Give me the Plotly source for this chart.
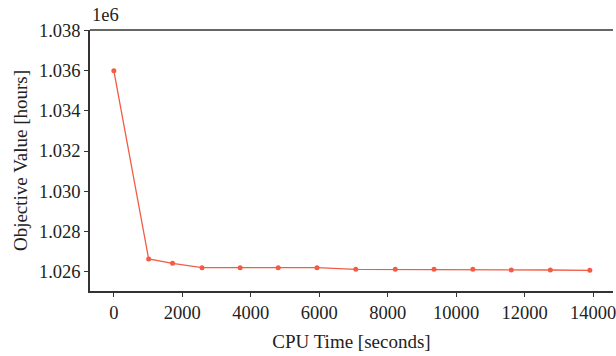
import plotly.graph_objects as go

cpu_time = [0, 1017, 1714, 2576, 3689, 4801, 5934, 7067, 8220, 9353, 10486, 11610, 12751, 13904]
objective = [1.036000e6, 1.026613e6, 1.026399e6, 1.026180e6, 1.026180e6, 1.026180e6, 1.026180e6,
             1.026100e6, 1.026100e6, 1.026100e6, 1.026100e6, 1.026065e6, 1.026065e6, 1.026050e6]
x_ticks = [0, 2000, 4000, 6000, 8000, 10000, 12000, 14000]
x_tick_text = ["0", "2000", "4000", "6000", "8000", "10000", "12000", "14000"]
y_ticks = [1.026e6, 1.028e6, 1.030e6, 1.032e6, 1.034e6, 1.036e6, 1.038e6]
y_tick_text = ["1.026", "1.028", "1.030", "1.032", "1.034", "1.036", "1.038"]

FONT = "Liberation Serif"
COLOR = "#f25c44"
FS = 18.5
FT = 19

fig = go.Figure()
fig.add_trace(go.Scatter(
    x=cpu_time, y=objective, mode="lines+markers",
    line=dict(color=COLOR, width=1.3),
    marker=dict(color=COLOR, size=5),
    cliponaxis=False,
))

fig.update_layout(
    width=616, height=356,
    margin=dict(l=90, r=0, t=30, b=65),
    plot_bgcolor="white", paper_bgcolor="white",
    font=dict(family=FONT, size=FS, color="#222222"),
    showlegend=False,
    xaxis=dict(
        range=[-697, 14581], tickvals=x_ticks, ticktext=x_tick_text, ticks="outside", ticklen=4,
        tickcolor="#333", showline=True, linecolor="#333", linewidth=1.5,
        showgrid=False, zeroline=False, ticklabeloverflow="allow",
        title=dict(text="CPU Time [seconds]", font=dict(family=FONT, size=FT), standoff=13),
        tickfont=dict(family=FONT, size=FS),
    ),
    yaxis=dict(
        range=[1.025017e6, 1.038035e6], tickvals=y_ticks, ticktext=y_tick_text,
        ticks="outside", ticklen=4, tickcolor="#333",
        showline=True, linecolor="#333", linewidth=1.5,
        showgrid=False, zeroline=False,
        title=dict(text="Objective Value [hours]", font=dict(family=FONT, size=FT), standoff=6),
        tickfont=dict(family=FONT, size=FS),
    ),
    shapes=[dict(type="line", xref="paper", yref="paper", x0=0, x1=1, y0=1, y1=1,
                 line=dict(color="#333", width=1.5))],
    annotations=[dict(text="1e6", xref="paper", yref="paper", x=0, y=1, xanchor="left",
                      yanchor="bottom", xshift=0, yshift=3, showarrow=False,
                      font=dict(family=FONT, size=FS))],
)

fig.write_html("out.html")
